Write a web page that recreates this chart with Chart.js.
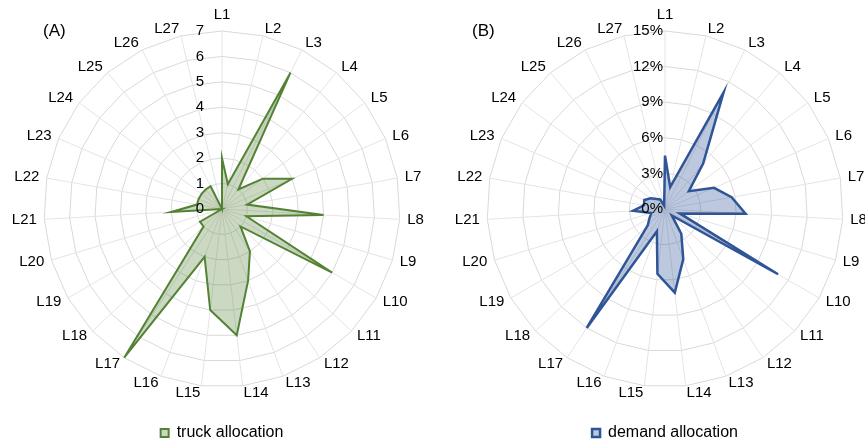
<!DOCTYPE html>
<html>
<head>
<meta charset="utf-8">
<script src="https://cdn.jsdelivr.net/npm/chart.js@4.4.1/dist/chart.umd.min.js"></script>
<style>
  html, body { margin: 0; padding: 0; background: #fff; }
  #wrap { position: relative; width: 865px; height: 444px; overflow: hidden; }
  .pane { position: absolute; top: 0; height: 444px; }
  #paneA { left: 0; width: 433px; }
  #paneB { left: 433px; width: 432px; }
  .tag { position: absolute; top: 21px; font: 17px "Liberation Sans", Arial, sans-serif; line-height: 19px; color: #000; }
</style>
</head>
<body>
<div id="wrap">
  <div class="pane" id="paneA"><canvas id="chartA" width="433" height="444"></canvas></div>
  <div class="pane" id="paneB"><canvas id="chartB" width="432" height="444"></canvas></div>
  <div class="tag" style="left:43px">(A)</div>
  <div class="tag" style="left:472px">(B)</div>
</div>
<script>
// Locations L1 .. L27
const locations = ['L1','L2','L3','L4','L5','L6','L7','L8','L9','L10','L11','L12','L13','L14',
                   'L15','L16','L17','L18','L19','L20','L21','L22','L23','L24','L25','L26','L27'];

// Number of trucks assigned to each location
const truckAllocation = [2, 1, 6, 1, 2, 3, 1, 4, 1, 5, 1, 2, 3, 5,
                         4, 2, 7, 1, 1, 0, 2, 1, 1, 1, 1, 1, 0];

// Share of total demand at each location (percent)
const demandAllocation = [4.5, 1.9, 11.0, 5.0, 2.5, 4.5, 5.7, 6.8, 1.3, 11.0, 0.8, 2.5, 4.5, 7.1,
                          5.5, 2.0, 12.0, 2.0, 1.5, 1.2, 2.7, 1.8, 1.9, 1.5, 1.1, 0.9, 0.3];

// Radial axis ranges
const truckTicks = { min: 0, max: 7, step: 1 };
const demandTicks = { min: 0, max: 15, step: 3 };

const FONT = '"Liberation Sans", Arial, Helvetica, sans-serif';
Chart.defaults.font.family = FONT;
Chart.defaults.color = '#000';

// Draws the category names around the rim and the value labels beside the vertical axis
function axisText(tickGap, fmt) {
  return {
    id: 'axisText',
    afterDatasetsDraw(chart) {
      const s = chart.scales.r;
      const ctx = chart.ctx;
      ctx.save();
      ctx.fillStyle = '#000';
      ctx.font = '15px ' + FONT;
      ctx.textBaseline = 'middle';
      const dist = s.drawingArea + 7.5;
      chart.data.labels.forEach((lab, i) => {
        const p = s.getPointPosition(i, dist);
        const sx = Math.sin(p.angle + Math.PI / 2);
        let y = p.y;
        let align = 'center';
        if (i === 0) {
          y -= 8.5;
        } else {
          align = sx > 0 ? 'left' : 'right';
        }
        ctx.textAlign = align;
        ctx.fillText(lab, p.x, y);
      });
      ctx.textAlign = 'right';
      s.ticks.forEach(t => {
        const d = s.getDistanceFromCenterForValue(t.value);
        ctx.fillText(fmt(t.value), s.xCenter - tickGap, s.yCenter - d);
      });
      ctx.restore();
    }
  };
}

function radarConfig(label, values, ticks, line, fill, width, pad, tickGap, fmt) {
  return {
    type: 'radar',
    data: {
      labels: locations,
      datasets: [{
        label: label,
        data: values,
        borderColor: line,
        backgroundColor: fill,
        borderWidth: width,
        fill: true,
        tension: 0,
        pointRadius: 0,
        pointHoverRadius: 0,
        borderJoinStyle: 'miter'
      }]
    },
    options: {
      responsive: false,
      animation: false,
      layout: { padding: pad },
      scales: {
        r: {
          min: ticks.min,
          max: ticks.max,
          ticks: { stepSize: ticks.step, display: false },
          pointLabels: { display: false },
          grid: { color: '#d9d9d9', lineWidth: 1 },
          angleLines: { color: '#e4e4e4', lineWidth: 1 }
        }
      },
      plugins: {
        tooltip: { enabled: false },
        legend: {
          position: 'bottom',
          labels: {
            boxWidth: 8,
            boxHeight: 8,
            padding: 10,
            color: '#000',
            font: { size: 16, family: FONT }
          }
        }
      }
    },
    plugins: [axisText(tickGap, fmt)]
  };
}

new Chart(document.getElementById('chartA'), radarConfig(
  'truck allocation', truckAllocation, truckTicks,
  '#548235', 'rgba(84,130,53,0.30)', 2,
  { left: 44, right: 33, top: 3, bottom: -7 }, 18, v => String(v)));

new Chart(document.getElementById('chartB'), radarConfig(
  'demand allocation', demandAllocation, demandTicks,
  '#2f5597', 'rgba(47,85,151,0.32)', 2.5,
  { left: 54, right: 22, top: 3, bottom: -7 }, 2, v => v + '%'));
</script>
</body>
</html>
